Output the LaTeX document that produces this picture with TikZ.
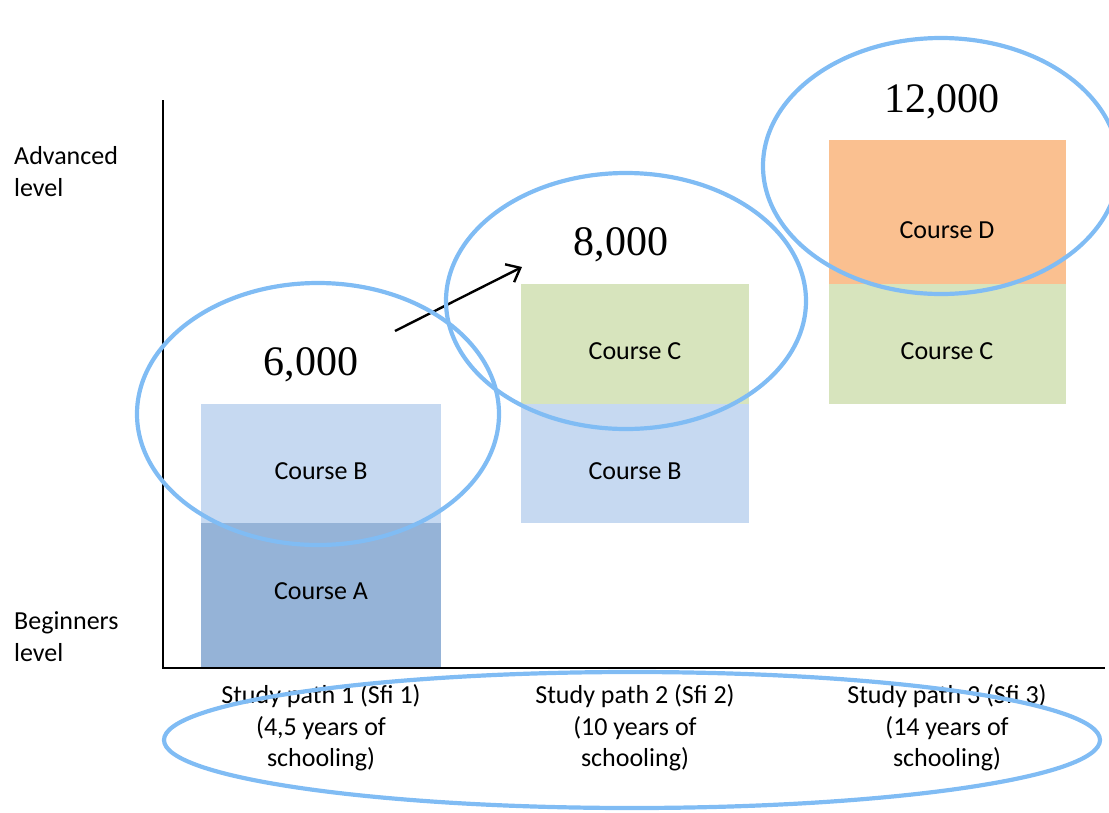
\documentclass[tikz,border=0pt]{standalone}
\usepackage{fontspec}
\setmainfont{Carlito}
\newfontfamily\numfont{Liberation Serif}
\usetikzlibrary{shapes.geometric,arrows.meta}
\definecolor{cA}{HTML}{95B3D7}
\definecolor{cB}{HTML}{C6D9F1}
\definecolor{cC}{HTML}{D7E4BD}
\definecolor{cD}{HTML}{FAC090}
\definecolor{ring}{HTML}{80BCF4}
\tikzset{
  bar/.style={rectangle, inner sep=0pt, draw=none, minimum width=#1},
  lbl/.style={font=\fontsize{26}{32}\selectfont, inner sep=0pt, anchor=base},
  axlbl/.style={font=\fontsize{26}{32}\selectfont, inner sep=0pt, align=left, anchor=west},
  pathlbl/.style={font=\fontsize{26}{31.5}\selectfont, inner sep=0pt, align=center},
  num/.style={font=\numfont\fontsize{42}{48}\selectfont, inner sep=0pt, anchor=base},
  ring/.style={ellipse, draw=ring, line width=4.2pt, inner sep=0pt},
  axis/.style={line width=2.6pt, black},
  growth/.style={line width=2.4pt, -{Straight Barb[length=12pt,width=20pt,line width=2.4pt]}}
}
\begin{document}
\begin{tikzpicture}[x=1pt,y=-1pt]
\useasboundingbox (0,0) rectangle (1109,812);
% bars
\node[bar=240, fill=cA, minimum height=145] (A1) at (321,595.5) {};
\node[bar=240, fill=cB, minimum height=119] (B1) at (321,463.5) {};
\node[bar=228, fill=cB, minimum height=119] (B2) at (635,463.5) {};
\node[bar=228, fill=cC, minimum height=120] (C2) at (635,344) {};
\node[bar=237, fill=cC, minimum height=120] (C3) at (947.5,344) {};
\node[bar=237, fill=cD, minimum height=144] (D3) at (947.5,212) {};
% bar labels
\node[lbl] (tA1) at (321,599) {Course A};
\node[lbl] (tB1) at (321,479) {Course B};
\node[lbl] (tB2) at (635,479) {Course B};
\node[lbl] (tC2) at (635,359) {Course C};
\node[lbl] (tC3) at (947,359) {Course C};
\node[lbl] (tD3) at (947,238) {Course D};
% axes
\coordinate (O) at (163,668);
\coordinate (Ytop) at (163,100);
\coordinate (Xend) at (1105,668);
\draw[axis] (Ytop) -- (O) -- (Xend);
% axis labels
\node[axlbl] (adv) at (14,172) {Advanced\\level};
\node[axlbl] (beg) at (14,637) {Beginners\\level};
% path labels
\node[pathlbl] (p1) at (321,728) {Study path 1 (Sfi 1)\\(4,5 years of\\schooling)};
\node[pathlbl] (p2) at (635,728) {Study path 2 (Sfi 2)\\(10 years of\\schooling)};
\node[pathlbl] (p3) at (947,728) {Study path 3 (Sfi 3)\\(14 years of\\schooling)};
% numbers
\node[num] (n1) at (311,375) {6,000};
\node[num] (n2) at (621,255) {8,000};
\node[num] (n3) at (942,112) {12,000};
% arrow
\coordinate (a1) at (395,331);
\coordinate (a2) at (522,267);
\draw[growth] (a1) -- (a2);
% rings
\node[ring, minimum width=362, minimum height=262] (e1) at (318,414) {};
\node[ring, minimum width=360, minimum height=256] (e2) at (626,301) {};
\node[ring, minimum width=356, minimum height=256] (e3) at (941,166) {};
\node[ring, minimum width=936, minimum height=136] (e4) at (632,740) {};
\end{tikzpicture}
\end{document}
